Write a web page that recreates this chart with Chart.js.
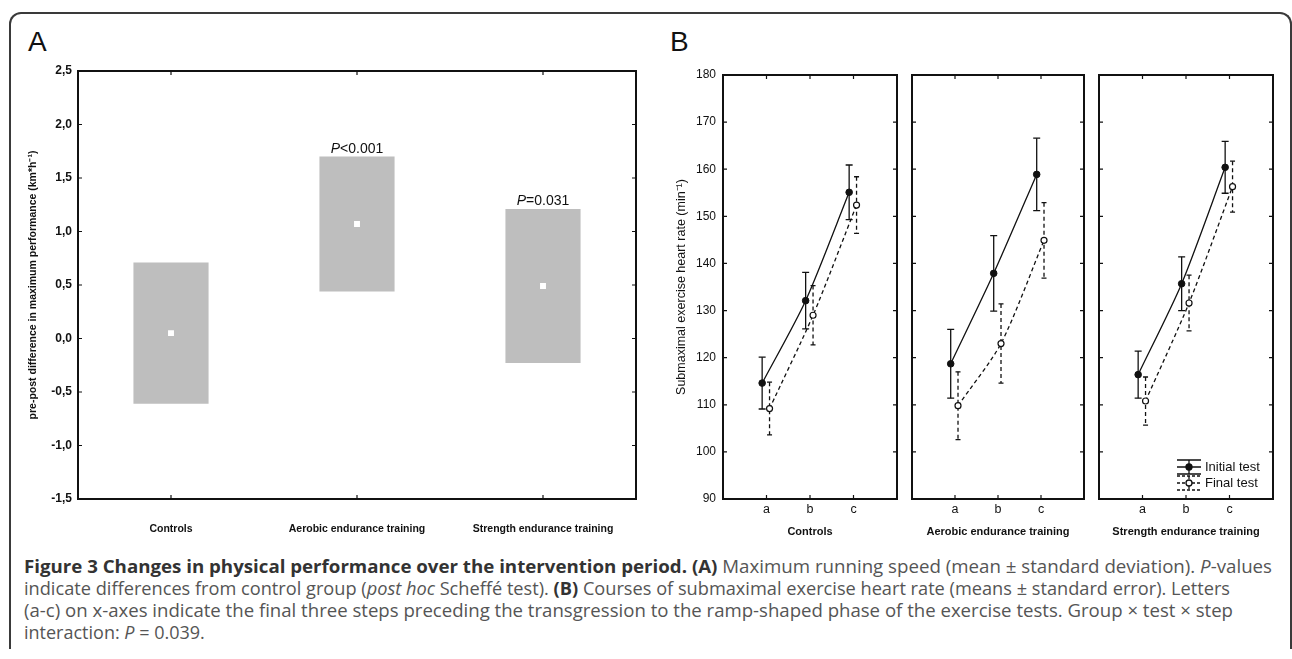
<!DOCTYPE html>
<html>
<head>
<meta charset="utf-8">
<script src="https://cdn.jsdelivr.net/npm/chart.js@4.4.1/dist/chart.umd.min.js"></script>
<style>
body { margin: 0; background: #fff; width: 1292px; height: 659px; overflow: hidden; position: relative; font-family: Arial, "Liberation Sans", sans-serif; }
#frame { position: absolute; left: 9px; top: 12px; width: 1283px; height: 637px; border: 2px solid #3a3a3a; border-bottom: none; border-radius: 12px 12px 0 0; box-sizing: border-box; }
.letter { position: absolute; top: 28px; font-size: 28px; line-height: 28px; color: #111; }
canvas { position: absolute; top: 0; }
#caption { position: absolute; left: 24px; top: 555px; font-family: "Open Sans", sans-serif; font-size: 18px; line-height: 22px; color: #555; white-space: nowrap; }
#caption .ln { width: max-content; transform-origin: 0 0; }
#caption b { color: #333; }
</style>
</head>
<body>
<div id="frame"></div>
<div class="letter" style="left:28px">A</div>
<div class="letter" style="left:670px">B</div>

<canvas id="chartA" width="660" height="550" style="left:0"></canvas>
<canvas id="chartB1" width="246" height="550" style="left:660px"></canvas>
<canvas id="chartB2" width="188" height="550" style="left:905px"></canvas>
<canvas id="chartB3" width="190" height="550" style="left:1092px"></canvas>

<div id="caption">
<div class="ln"><b>Figure 3 Changes in physical performance over the intervention period.</b> <b>(A)</b> Maximum running speed (mean ± standard deviation). <i>P</i>-values</div>
<div class="ln">indicate differences from control group (<i>post hoc</i> Scheffé test). <b>(B)</b> Courses of submaximal exercise heart rate (means ± standard error). Letters</div>
<div class="ln">(a-c) on x-axes indicate the final three steps preceding the transgression to the ramp-shaped phase of the exercise tests. Group × test × step</div>
<div class="ln">interaction: <i>P</i> = 0.039.</div>
</div>

<script>
// panel A: pre-post change in max running speed (mean +- SD)
const groupsA = ['Controls', 'Aerobic endurance training', 'Strength endurance training'];
const meanA = [0.05, 1.07, 0.49];
const lowA = [-0.61, 0.44, -0.23];
const highA = [0.71, 1.70, 1.21];
const pLabelsA = ['', 'P<0.001', 'P=0.031'];

// panel B: heart rate at steps a-c (means +- SE)
const steps = ['a', 'b', 'c'];
const groupsB = ['Controls', 'Aerobic endurance training', 'Strength endurance training'];
const seriesB = ['Initial test', 'Final test'];
const initialB = [[114.6, 132.1, 155.1], [118.7, 137.9, 158.9], [116.4, 135.7, 160.4]];
const initialSE = [[5.5, 6.0, 5.8], [7.3, 8.0, 7.7], [5.0, 5.7, 5.5]];
const finalB = [[109.2, 129.0, 152.4], [109.8, 123.0, 144.9], [110.8, 131.6, 156.3]];
const finalSE = [[5.6, 6.3, 6.0], [7.2, 8.4, 8.0], [5.1, 5.9, 5.4]];

const INK = '#111';
const fontAx = 'Arial';

// box around plot area + small inward ticks on all four sides
const framePlugin = {
    id: 'frame',
    afterDatasetsDraw(chart) {
        const { ctx, chartArea: a, scales: { x, y } } = chart;
        ctx.save();
        ctx.strokeStyle = INK;
        ctx.lineWidth = 2;
        ctx.strokeRect(a.left, a.top, a.right - a.left, a.bottom - a.top);
        ctx.lineWidth = 1.2;
        ctx.beginPath();
        x.ticks.forEach((t, i) => {
            if (x.type === 'linear' && (t.value <= x.min || t.value >= x.max)) return;
            const px = x.getPixelForTick(i);
            ctx.moveTo(px, a.top); ctx.lineTo(px, a.top + 4);
            ctx.moveTo(px, a.bottom); ctx.lineTo(px, a.bottom - 4);
        });
        y.ticks.forEach((t, i) => {
            const py = y.getPixelForTick(i);
            ctx.moveTo(a.left, py); ctx.lineTo(a.left + 4, py);
            ctx.moveTo(a.right, py); ctx.lineTo(a.right - 4, py);
        });
        ctx.stroke();
        ctx.restore();
    }
};

const pLabelPlugin = {
    id: 'pLabels',
    afterDatasetsDraw(chart) {
        const { ctx, scales: { x, y } } = chart;
        ctx.save();
        ctx.fillStyle = INK;
        ctx.textBaseline = 'alphabetic';
        pLabelsA.forEach((lab, i) => {
            if (!lab) return;
            const cx = x.getPixelForValue(i);
            const by = y.getPixelForValue(highA[i]) - 4;
            const head = lab.slice(0, 1), rest = lab.slice(1);
            ctx.font = 'italic 14px Arial';
            const w1 = ctx.measureText(head).width;
            ctx.font = '14px Arial';
            const w2 = ctx.measureText(rest).width;
            const sx = cx - (w1 + w2) / 2;
            ctx.font = 'italic 14px Arial';
            ctx.fillText(head, sx, by);
            ctx.font = '14px Arial';
            ctx.fillText(rest, sx + w1, by);
        });
        ctx.restore();
    }
};

new Chart(document.getElementById('chartA'), {
    type: 'bar',
    data: {
        labels: groupsA,
        datasets: [
            {
                type: 'line',
                data: meanA,
                showLine: false,
                pointStyle: 'rect',
                pointRadius: 4.2,
                pointBackgroundColor: '#fff',
                pointBorderWidth: 0,
                order: 0
            },
            {
                data: groupsA.map((g, i) => [lowA[i], highA[i]]),
                backgroundColor: '#bebebe',
                borderWidth: 0,
                categoryPercentage: 1,
                barPercentage: 0.404,
                order: 1
            }
        ]
    },
    options: {
        responsive: false,
        animation: false,
        layout: { padding: { top: 71, right: 24, left: 0, bottom: 0 } },
        plugins: { legend: { display: false }, tooltip: { enabled: false } },
        scales: {
            x: {
                grid: { display: false, drawTicks: false },
                border: { display: false },
                ticks: { padding: 24, color: INK, autoSkip: false, maxRotation: 0, font: { family: fontAx, size: 10.5, weight: 'bold' } },
                afterFit: s => { s.height = 51; }
            },
            y: {
                min: -1.5,
                max: 2.5,
                grid: { display: false, drawTicks: false },
                border: { display: false },
                ticks: {
                    stepSize: 0.5,
                    padding: 6,
                    color: INK,
                    font: { family: fontAx, size: 12, weight: 'bold' },
                    callback: v => v.toFixed(1).replace('.', ',')
                },
                title: {
                    display: true,
                    text: 'pre-post difference in maximum performance (km*h⁻¹)',
                    color: INK,
                    font: { family: fontAx, size: 10.5, weight: 'bold' },
                    padding: { top: 27, bottom: 0 }
                },
                afterFit: s => { s.width = 78; }
            }
        }
    },
    plugins: [framePlugin, pLabelPlugin]
});

// whiskers for panel B, drawn under the points
const errorBarPlugin = {
    id: 'errorBars',
    beforeDatasetsDraw(chart) {
        const { ctx, scales: { x, y } } = chart;
        chart.data.datasets.forEach(ds => {
            if (!ds.errors) return;
            ctx.save();
            ctx.strokeStyle = INK;
            ctx.lineWidth = 1.3;
            ds.data.forEach((p, j) => {
                const px = x.getPixelForValue(p.x);
                const top = y.getPixelForValue(p.y + ds.errors[j]);
                const bot = y.getPixelForValue(p.y - ds.errors[j]);
                ctx.setLineDash(ds.borderDash || []);
                ctx.beginPath();
                ctx.moveTo(px, top); ctx.lineTo(px, bot);
                ctx.stroke();
                ctx.setLineDash([]);
                const cw = ds.borderDash ? 2.5 : 3.5;
                ctx.beginPath();
                ctx.moveTo(px - cw, top); ctx.lineTo(px + cw, top);
                ctx.moveTo(px - cw, bot); ctx.lineTo(px + cw, bot);
                ctx.stroke();
            });
            ctx.restore();
        });
    }
};

const legendPlugin = {
    id: 'legendB',
    afterDraw(chart) {
        const { ctx, chartArea: a } = chart;
        const x0 = a.right - 96, x1 = a.right - 72, xm = (x0 + x1) / 2;
        const rows = [a.bottom - 32, a.bottom - 16];
        ctx.save();
        ctx.strokeStyle = INK;
        ctx.fillStyle = INK;
        ctx.lineWidth = 1.3;
        rows.forEach((cy, k) => {
            ctx.setLineDash(k === 0 ? [] : [3, 2]);
            ctx.beginPath();
            ctx.moveTo(x0, cy - 7); ctx.lineTo(x1, cy - 7);
            ctx.moveTo(x0, cy + 7); ctx.lineTo(x1, cy + 7);
            ctx.moveTo(xm, cy - 7); ctx.lineTo(xm, cy + 7);
            ctx.moveTo(x0, cy); ctx.lineTo(x1, cy);
            ctx.stroke();
            ctx.setLineDash([]);
            ctx.beginPath();
            ctx.arc(xm, cy, 3, 0, Math.PI * 2);
            ctx.fillStyle = k === 0 ? INK : '#fff';
            ctx.fill();
            ctx.stroke();
            ctx.fillStyle = INK;
            ctx.font = '13px Arial';
            ctx.textBaseline = 'middle';
            ctx.fillText(seriesB[k], a.right - 68, cy);
        });
        ctx.restore();
    }
};

const offsetInit = -0.1;
const offsetFinal = 0.07;
const subPads = [{ left: 0, right: 9 }, { left: 7, right: 9 }, { left: 7, right: 9 }];

groupsB.forEach((group, i) => {
    const first = i === 0;
    const plugins = [errorBarPlugin, framePlugin];
    if (i === 2) plugins.push(legendPlugin);
    new Chart(document.getElementById('chartB' + (i + 1)), {
        type: 'line',
        data: {
            datasets: [
                {
                    label: seriesB[0],
                    data: steps.map((s, j) => ({ x: j + 1 + offsetInit, y: initialB[i][j] })),
                    errors: initialSE[i],
                    borderColor: INK,
                    borderWidth: 1.3,
                    tension: 0.25,
                    pointRadius: 3.3,
                    pointBackgroundColor: INK,
                    pointBorderColor: INK,
                    pointBorderWidth: 1
                },
                {
                    label: seriesB[1],
                    data: steps.map((s, j) => ({ x: j + 1 + offsetFinal, y: finalB[i][j] })),
                    errors: finalSE[i],
                    borderColor: INK,
                    borderWidth: 1.3,
                    borderDash: [4, 3],
                    tension: 0.25,
                    pointRadius: 3,
                    pointBackgroundColor: '#fff',
                    pointBorderColor: INK,
                    pointBorderWidth: 1.2
                }
            ]
        },
        options: {
            responsive: false,
            animation: false,
            layout: { padding: { top: 75, bottom: 0, left: subPads[i].left, right: subPads[i].right } },
            plugins: { legend: { display: false }, tooltip: { enabled: false } },
            scales: {
                x: {
                    type: 'linear',
                    min: 0,
                    max: 4,
                    grid: { display: false, drawTicks: false },
                    border: { display: false },
                    ticks: {
                        stepSize: 1,
                        autoSkip: false,
                        maxRotation: 0,
                        padding: 3,
                        color: INK,
                        font: { family: fontAx, size: 12.5 },
                        callback: v => steps[v - 1] || ''
                    },
                    title: {
                        display: true,
                        text: group,
                        color: INK,
                        font: { family: fontAx, size: 11, weight: 'bold' },
                        padding: { top: 0, bottom: 11 }
                    },
                    afterFit: s => { s.height = 51; }
                },
                y: {
                    display: first,
                    min: 90,
                    max: 180,
                    grid: { display: false, drawTicks: false },
                    border: { display: false },
                    ticks: { stepSize: 10, padding: 7, color: INK, font: { family: fontAx, size: 12 } },
                    title: {
                        display: first,
                        text: 'Submaximal exercise heart rate (min⁻¹)',
                        color: INK,
                        font: { family: fontAx, size: 12.5 },
                        padding: { top: 14, bottom: 0 }
                    },
                    afterFit: s => { s.width = first ? 63 : 0; }
                }
            }
        },
        plugins: plugins
    });
});

// stretch caption lines to the widths they have in the figure
const captionWidths = [1248, 1206, 1209];
document.querySelectorAll('#caption .ln').forEach((el, i) => {
    if (!captionWidths[i]) return;
    const w = el.getBoundingClientRect().width;
    el.style.transform = 'scaleX(' + (captionWidths[i] / w) + ')';
});
</script>
</body>
</html>
